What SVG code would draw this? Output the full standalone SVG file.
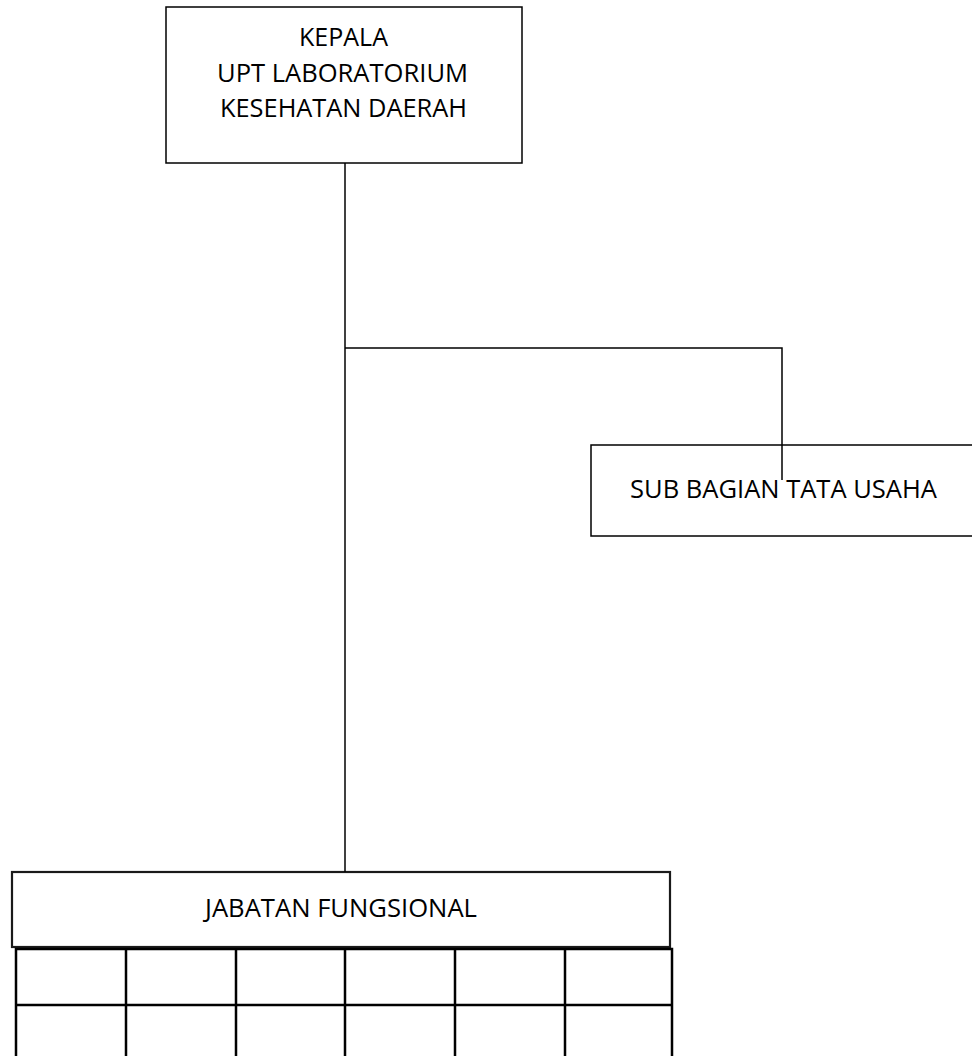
<svg xmlns="http://www.w3.org/2000/svg" width="972" height="1056" viewBox="0 0 972 1056">
<style>
.box{fill:#fff;stroke:#000;stroke-width:1.5}
.jbox{fill:#fff;stroke:#1a1a1a;stroke-width:2.2}
.grid{fill:none;stroke:#000;stroke-width:2.5}
.conn{fill:none;stroke:#000;stroke-width:1.5}
.t{font-family:"Open Sans","Noto Sans","Liberation Sans",sans-serif;font-size:25px;fill:#000;text-anchor:middle}
</style>
<rect x="0" y="0" width="972" height="1056" fill="#fff"/>
<g id="kepala">
<rect class="box" x="166" y="7" width="356" height="156"/>
<text class="t" x="343.5" y="46" textLength="89" lengthAdjust="spacingAndGlyphs">KEPALA</text>
<text class="t" x="342.5" y="82" textLength="251" lengthAdjust="spacingAndGlyphs">UPT LABORATORIUM</text>
<text class="t" x="343.5" y="117" textLength="247" lengthAdjust="spacingAndGlyphs">KESEHATAN DAERAH</text>
</g>
<g id="subbagian">
<rect class="box" x="591" y="445" width="400" height="91"/>
<text class="t" x="783.5" y="498" textLength="307" lengthAdjust="spacingAndGlyphs">SUB BAGIAN TATA USAHA</text>
</g>
<g id="jabatan">
<rect class="jbox" x="12" y="872" width="658" height="75"/>
<text class="t" x="341" y="917" textLength="272" lengthAdjust="spacingAndGlyphs">JABATAN FUNGSIONAL</text>
</g>
<g id="tabel">
<path class="grid" d="M16,1060 V949 H672 V1060 M16,1005 H672 M126,949 V1060 M236,949 V1060 M345,949 V1060 M455,949 V1060 M565,949 V1060"/>
</g>
<g id="connectors">
<path class="conn" d="M345,163 V872"/>
<path class="conn" d="M345,348 H782 V480"/>
</g>
</svg>
